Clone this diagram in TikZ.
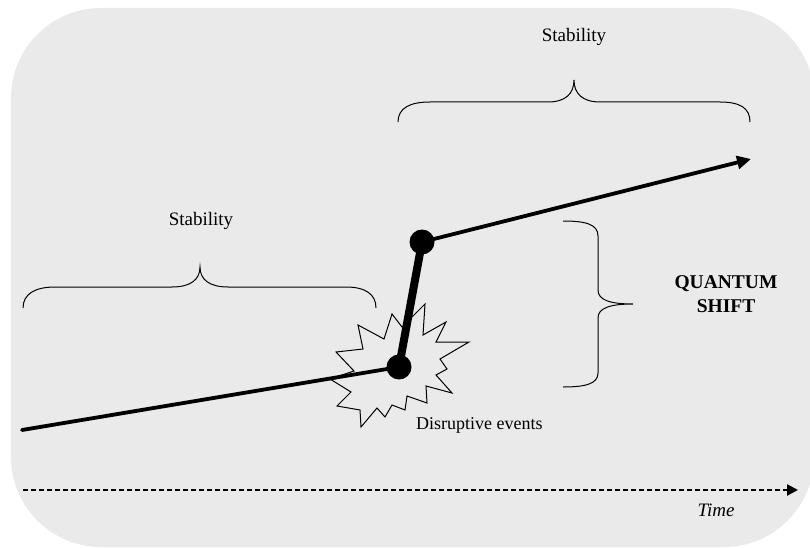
\documentclass[tikz,border=0pt]{standalone}
\usepackage{fontspec}
\setmainfont{Liberation Serif}
\usetikzlibrary{arrows.meta}
\definecolor{panel}{RGB}{234,234,234}
\tikzset{
  dot/.style={circle,fill=black,inner sep=0pt,minimum size=25pt},
  flow/.style={line width=3.8pt,line cap=round},
  jump/.style={line width=8pt},
  curly/.style={line width=1pt},
  burst/.style={line width=1pt,line join=miter},
  label/.style={font=\fontsize{18}{21}\selectfont,inner sep=0pt},
  timeline/.style={line width=2.5pt,dash pattern=on 5pt off 3pt,
    -{Triangle[length=11pt,width=11pt]}}
}
\begin{document}
\begin{tikzpicture}[x=1pt,y=-1pt]
\useasboundingbox (0,0) rectangle (810,548);
% rounded panel behind everything
\fill[panel,rounded corners=90pt] (11,8) rectangle (814,547);

% key points of the trajectory
\coordinate (start) at (22,430);
\coordinate (low) at (399,367);
\coordinate (high) at (422,242);
\coordinate (tip) at (751,159);

% starburst around the lower point
\draw[burst] (425,304) -- (423,335) -- (446,322) -- (436,342) -- (469,342)
  -- (440,359) -- (447,369) -- (436,375) -- (452,393) -- (426,386)
  -- (427,403) -- (407,396) -- (405,410) -- (392,405) -- (385,417)
  -- (377,408) -- (361,427) -- (360,410) -- (337,406) -- (351,392)
  -- (330,379) -- (354,371) -- (336,352) -- (363,349) -- (358,325)
  -- (384,339) -- (392,314) -- (402,327) -- cycle;

% trajectory
\draw[flow] (start) -- (low);
\draw[jump] (low) -- (high);
\draw[flow,line cap=butt,-{Triangle[length=14pt,width=13pt]}] (high) -- (tip);
\node[dot] (lowdot) at (low) {};
\node[dot] (highdot) at (high) {};

% braces
\draw[curly] (23,308) .. controls (23,294) and (35,287) .. (55,287) -- (172,287)
  .. controls (190,287) and (200,280) .. (200,267)
  .. controls (200,280) and (210,287) .. (228,287) -- (346,287)
  .. controls (365,287) and (376,294) .. (376,308);
\draw[curly] (398,122) .. controls (398,108) and (410,102) .. (430,102) -- (548,102)
  .. controls (565,102) and (574,94) .. (574,80)
  .. controls (574,94) and (583,102) .. (600,102) -- (720,102)
  .. controls (740,102) and (750,108) .. (750,122);
\draw[curly] (563,221) .. controls (585,221) and (598,224) .. (598,236) -- (598,290)
  .. controls (598,300) and (610,304) .. (633,304)
  .. controls (610,304) and (598,308) .. (598,318) -- (598,373)
  .. controls (598,384) and (585,387) .. (563,387);

% time axis
\coordinate (t0) at (23,490);
\coordinate (t1) at (798,490);
\draw[timeline] (t0) -- (t1);

% texts
\node[label,font=\fontsize{19}{22}\selectfont] (stabA) at (201,221) {Stability};
\node[label,font=\fontsize{19}{22}\selectfont] (stabB) at (574,37) {Stability};
\node[label,font=\fontsize{19.5}{24}\selectfont\bfseries,align=center] (shift) at (726,294) {QUANTUM\\SHIFT};
\node[label,anchor=west] (events) at (416,425) {Disruptive events};
\node[label,font=\fontsize{19}{22}\selectfont\itshape] (time) at (716,510) {Time};
\end{tikzpicture}
\end{document}
